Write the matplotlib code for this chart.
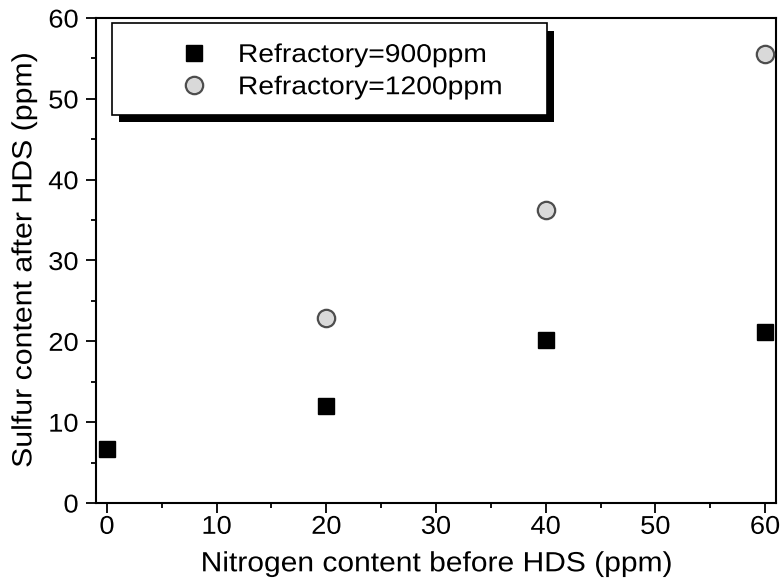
import matplotlib
matplotlib.use("Agg")
import matplotlib.pyplot as plt
from matplotlib.patches import Rectangle
from matplotlib.patheffects import AbstractPathEffect
from matplotlib.transforms import Affine2D
from matplotlib.ticker import MultipleLocator

# data
nitrogen_900 = [0, 20, 40, 60]
sulfur_900 = [6.7, 12.0, 20.2, 21.2]
nitrogen_1200 = [20, 40, 60]
sulfur_1200 = [22.9, 36.3, 55.5]
label_900 = "Refractory=900ppm"
label_1200 = "Refractory=1200ppm"
xticks = [0, 10, 20, 30, 40, 50, 60]
yticks = [0, 10, 20, 30, 40, 50, 60]

plt.rcParams["font.family"] = ["Liberation Sans", "DejaVu Sans"]


class Widen(AbstractPathEffect):
    """stretch text horizontally (the original font runs a bit wide)"""

    def __init__(self, sx=1.08, anchor="center"):
        super().__init__()
        self.sx = sx
        self.anchor = anchor

    def draw_path(self, renderer, gc, tpath, affine, rgbFace=None):
        xs = tpath.vertices[:, 0]
        if len(xs) == 0:
            return
        if self.anchor == "left":
            x0 = xs.min()
        elif self.anchor == "right":
            x0 = xs.max()
        else:
            x0 = (xs.min() + xs.max()) / 2
        st = Affine2D().translate(-x0, 0).scale(self.sx, 1).translate(x0, 0)
        renderer.draw_path(gc, tpath, st + affine, rgbFace)


W, H = 781, 585
fig = plt.figure(figsize=(W / 100, H / 100), dpi=100)
# axes box in pixels: left 96, right 776, top 18, bottom 503
ax = fig.add_axes([96 / W, (H - 503) / H, 680 / W, 485 / H])

ax.plot(nitrogen_900, sulfur_900, ls="none", marker="s", ms=12,
        color="black", label=label_900, zorder=3)
ax.plot(nitrogen_1200, sulfur_1200, ls="none", marker="o", ms=12.5,
        mfc="#d9d9d9", mec="#4d4d4d", mew=1.6, label=label_1200, zorder=3)

ax.set_xlim(-1, 61)
ax.set_ylim(0, 60)
ax.set_xticks(xticks)
ax.set_yticks(yticks)
ax.xaxis.set_minor_locator(MultipleLocator(5))
ax.yaxis.set_minor_locator(MultipleLocator(5))
ax.tick_params(which="major", direction="out", length=7.5, width=1.3,
               labelsize=18.5, color="black")
ax.tick_params(which="minor", direction="out", length=3.5, width=1.3)
ax.tick_params(axis="x", which="major", pad=1)
ax.tick_params(axis="y", which="major", pad=5)
for sp in ax.spines.values():
    sp.set_linewidth(1.5)

ax.set_xlabel("Nitrogen content before HDS (ppm)", fontsize=20, labelpad=9)
ax.set_ylabel("Sulfur content after HDS (ppm)", fontsize=20, labelpad=9)
ax.xaxis.label.set_path_effects([Widen(1.08, "center")])
ax.yaxis.label.set_path_effects([Widen(1.09, "center")])
for t in ax.xaxis.get_major_ticks():
    t.label1.set_path_effects([Widen(1.06, "center")])
for t in ax.yaxis.get_major_ticks():
    t.label1.set_path_effects([Widen(1.06, "right")])


def px2ax(px, py):
    return (px - 96) / 680, (503 - py) / 485


# legend box with a hard black drop shadow
fx0, fy0 = px2ax(112, 115)
fx1, fy1 = px2ax(547, 23)
sx0, sy0 = px2ax(119, 122)
sx1, sy1 = px2ax(554, 31)
ax.add_patch(Rectangle((sx0, sy0), sx1 - sx0, sy1 - sy0, transform=ax.transAxes,
                       facecolor="black", edgecolor="none", zorder=4.8, clip_on=False))
ax.add_patch(Rectangle((fx0, fy0), fx1 - fx0, fy1 - fy0, transform=ax.transAxes,
                       facecolor="white", edgecolor="black", lw=1.2, zorder=4.9,
                       clip_on=False))

lx, ly = px2ax(168, 43)
leg = ax.legend(loc="upper left", bbox_to_anchor=(lx, ly), frameon=False,
                fontsize=18.5, borderpad=0, borderaxespad=0, handlelength=2,
                handletextpad=0.72, labelspacing=0.32, numpoints=1)
leg.set_zorder(6)
for txt in leg.get_texts():
    txt.set_path_effects([Widen(1.1, "left")])

fig.savefig("out.png", dpi=100)
